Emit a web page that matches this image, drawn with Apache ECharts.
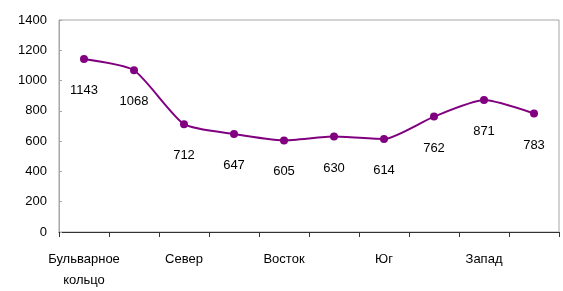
<!DOCTYPE html>
<html lang="ru">
<head>
  <meta charset="UTF-8">
  <title>Chart</title>
  <script src="https://cdn.jsdelivr.net/npm/echarts@6/dist/echarts.min.js"></script>
  <style>
    html, body { margin: 0; padding: 0; background: #fff; }
    #chart { width: 563px; height: 291px; }
  </style>
</head>
<body>
  <div id="chart"></div>
  <script>
    // категории (подписаны только чётные)
    const categories = ['Бульварное\nкольцо', '', 'Север', '', 'Восток', '', 'Юг', '', 'Запад', '']
    const values = [1143, 1068, 712, 647, 605, 630, 614, 762, 871, 783]
    const yTicks = [0, 200, 400, 600, 800, 1000, 1200, 1400]

    const myChart = echarts.init(document.getElementById('chart'))
    const font = 'Liberation Sans, Arial, sans-serif'

    const option = {
      animation: false,
      grid: {
        left: 59, right: 4, top: 20, bottom: 53,
        show: true,
        borderColor: '#a6a6a6',
        borderWidth: 1
      },
      xAxis: {
        type: 'category',
        data: categories,
        boundaryGap: true,
        axisLine: { lineStyle: { color: '#333', width: 1 } },
        axisTick: { show: true, interval: 0, length: 5, lineStyle: { color: '#333' } },
        axisLabel: {
          interval: 0,
          margin: 17,
          color: '#000',
          fontFamily: font,
          fontSize: 13,
          lineHeight: 21
        },
        splitLine: { show: false }
      },
      yAxis: {
        type: 'value',
        min: yTicks[0],
        max: yTicks[yTicks.length - 1],
        interval: 200,
        axisLine: { show: true, lineStyle: { color: '#a6a6a6' } },
        axisTick: { show: true, length: 3, inside: true, lineStyle: { color: '#a6a6a6' } },
        axisLabel: {
          margin: 12,
          color: '#000',
          fontFamily: font,
          fontSize: 13,
          formatter: v => String(v)
        },
        splitLine: { show: false }
      },
      series: [
        {
          type: 'line',
          data: values,
          smooth: 0.2,
          symbol: 'circle',
          symbolSize: 8,
          lineStyle: { color: '#800080', width: 2 },
          itemStyle: { color: '#800080' },
          label: {
            show: true,
            position: 'bottom',
            distance: 21,
            color: '#000',
            fontFamily: font,
            fontSize: 13
          }
        }
      ]
    }
    myChart.setOption(option)
  </script>
</body>
</html>
